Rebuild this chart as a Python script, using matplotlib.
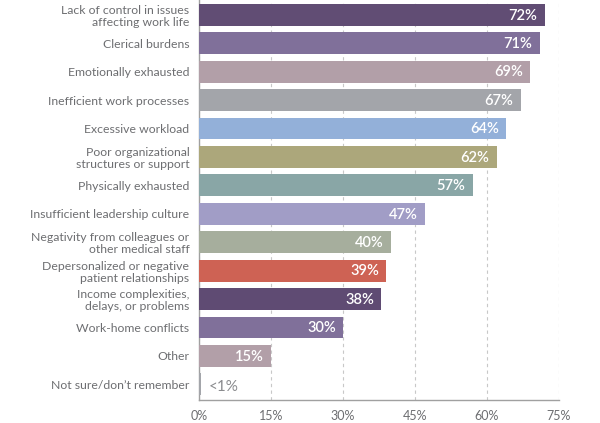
import matplotlib

matplotlib.use("Agg")
import matplotlib.pyplot as plt

plt.rcParams["font.family"] = ["Lato", "DejaVu Sans"]

categories = [
    "Lack of control in issues\naffecting work life",
    "Clerical burdens",
    "Emotionally exhausted",
    "Inefficient work processes",
    "Excessive workload",
    "Poor organizational\nstructures or support",
    "Physically exhausted",
    "Insufficient leadership culture",
    "Negativity from colleagues or\nother medical staff",
    "Depersonalized or negative\npatient relationships",
    "Income complexities,\ndelays, or problems",
    "Work-home conflicts",
    "Other",
    "Not sure/don\u2019t remember",
]
values = [72, 71, 69, 67, 64, 62, 57, 47, 40, 39, 38, 30, 15, 0.5]
value_labels = ["72%", "71%", "69%", "67%", "64%", "62%", "57%", "47%", "40%", "39%", "38%", "30%", "15%", "<1%"]
colors = [
    "#614d74", "#80709a", "#b29fa8", "#a3a5aa", "#93b0d9", "#aca77b", "#89a6a6",
    "#a19dc6", "#a6ae9d", "#ce6254", "#5f4b73", "#80709a", "#b29fa8", "#a3a5aa",
]
x_ticks = [0, 15, 30, 45, 60, 75]

text_gray = "#6d6e71"

fig = plt.figure(figsize=(6.0, 4.23), dpi=100)
ax = fig.add_axes([0.3317, 0.0544, 0.6, 0.9456])

y = list(range(len(categories)))
ax.barh(y, values, height=0.77, color=colors, zorder=3)

for i, (v, lab) in enumerate(zip(values, value_labels)):
    if v >= 5:
        ax.text(v - 1.5, i + 0.03, lab, ha="right", va="center", color="white",
                fontsize=10.5, fontweight="semibold", zorder=4)
    else:
        ax.text(v + 1.5, i + 0.08, lab, ha="left", va="center", color="#8a8b8e",
                fontsize=11, zorder=4)

ax.set_yticks(y)
ax.set_yticklabels(categories, fontsize=8.8, color=text_gray, linespacing=1.1)
ax.set_ylim(len(categories) - 0.45, -0.52)
ax.set_xlim(0, 75)
ax.set_xticks(x_ticks)
ax.set_xticklabels([f"{t}%" for t in x_ticks], fontsize=9, color=text_gray)
ax.tick_params(axis="both", length=0)
ax.tick_params(axis="x", pad=7)
ax.tick_params(axis="y", pad=7)

ax.grid(axis="x", color="#c8c8c8", linestyle=(0, (3, 3)), linewidth=0.8, zorder=0)
for side in ["top", "right"]:
    ax.spines[side].set_visible(False)
for side in ["left", "bottom"]:
    ax.spines[side].set_color("#a0a0a0")
    ax.spines[side].set_linewidth(1.0)

fig.savefig("out.png", dpi=100)
